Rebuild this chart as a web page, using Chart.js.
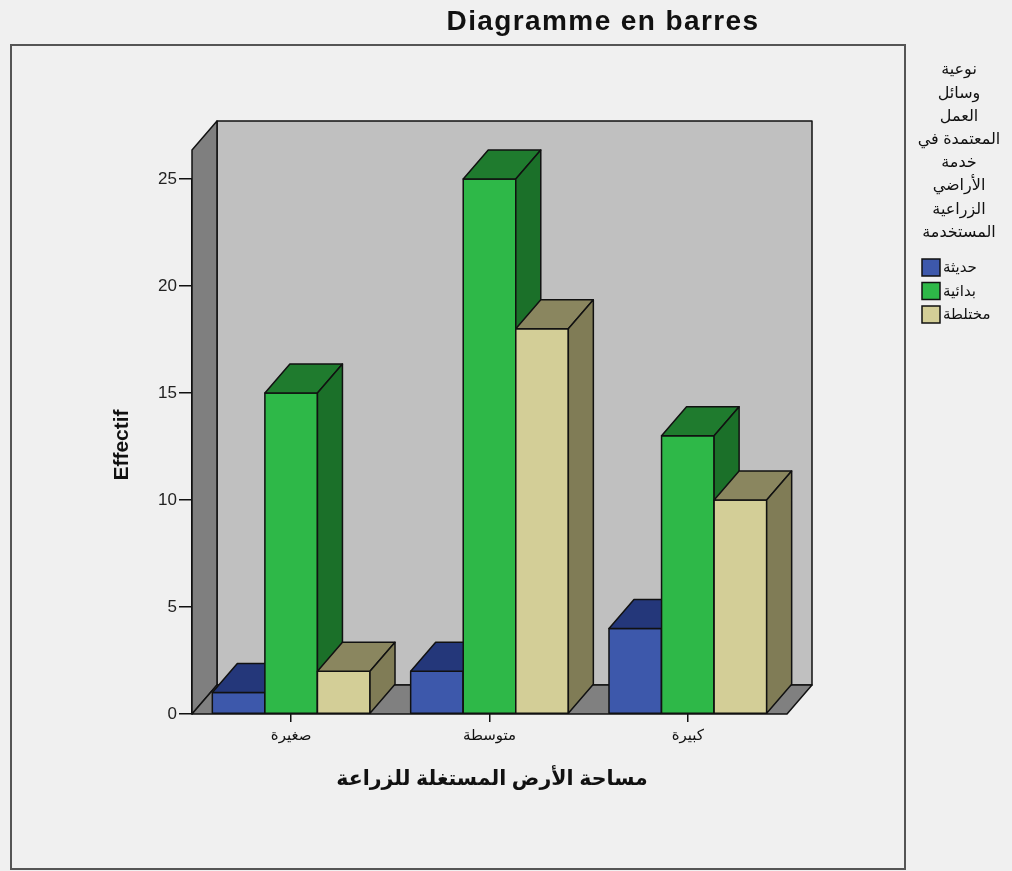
<!DOCTYPE html>
<html>
<head>
<meta charset="utf-8">
<script src="https://cdn.jsdelivr.net/npm/chart.js@4/dist/chart.umd.min.js"></script>
<style>
  html, body { margin: 0; padding: 0; background: #f0f0f0; }
  #wrap { width: 1012px; height: 871px; }
</style>
</head>
<body>
<div id="wrap"><canvas id="chart" width="1012" height="871"></canvas></div>
<script>
// --- Data ---
const categories = ['صغيرة', 'متوسطة', 'كبيرة'];
const seriesNames = ['حديثة', 'بدائية', 'مختلطة'];
const modernValues = [1, 2, 4];
const primitiveValues = [15, 25, 13];
const mixedValues = [2, 18, 10];
const yTicks = [0, 5, 10, 15, 20, 25];

const chartTitle = 'Diagramme en barres';
const xTitle = 'مساحة الأرض المستغلة للزراعة';
const yTitle = 'Effectif';
const legendTitle = ['نوعية', 'وسائل', 'العمل', 'المعتمدة في', 'خدمة', 'الأراضي', 'الزراعية', 'المستخدمة'];

// colours: front face, top face, side face
const faceColors = [
    ['#3d58ab', '#24377a', '#1f3170'],
    ['#2eb848', '#1f7b2e', '#1b7029'],
    ['#d3ce97', '#8a865f', '#807c56']
];

const depthX = 25, depthY = 29;
const wallTop = 26.35;
const arabicFont = '"Liberation Sans", "DejaVu Sans", Arial, sans-serif';

function poly(ctx, pts, fill) {
    ctx.beginPath();
    ctx.moveTo(pts[0][0], pts[0][1]);
    for (let k = 1; k < pts.length; k++) ctx.lineTo(pts[k][0], pts[k][1]);
    ctx.closePath();
    ctx.fillStyle = fill;
    ctx.fill();
    ctx.stroke();
}

// --- 3D walls, floor and bar faces ---
const boxPlugin = {
    id: 'box3d',
    beforeDatasetsDraw(chart) {
        const ctx = chart.ctx;
        const y = chart.scales.y;
        const L = chart.chartArea.left, R = chart.chartArea.right;
        const B = y.getPixelForValue(0), T = y.getPixelForValue(wallTop);
        ctx.save();
        ctx.lineWidth = 1.5;
        ctx.strokeStyle = '#111';
        ctx.lineJoin = 'round';
        // back wall, left wall, floor
        poly(ctx, [[L + depthX, T - depthY], [R + depthX, T - depthY], [R + depthX, B - depthY], [L + depthX, B - depthY]], '#c0c0c0');
        poly(ctx, [[L, T], [L + depthX, T - depthY], [L + depthX, B - depthY], [L, B]], '#7f7f7f');
        poly(ctx, [[L, B], [R, B], [R + depthX, B - depthY], [L + depthX, B - depthY]], '#808080');
        ctx.restore();
    },
    afterDatasetsDraw(chart) {
        const ctx = chart.ctx;
        ctx.save();
        ctx.lineWidth = 1.5;
        ctx.strokeStyle = '#111';
        ctx.lineJoin = 'round';
        // paint bars left to right so nearer faces cover the ones behind
        for (let j = 0; j < categories.length; j++) {
            for (let i = 0; i < chart.data.datasets.length; i++) {
                const el = chart.getDatasetMeta(i).data[j];
                const l = el.x - el.width / 2, r = el.x + el.width / 2;
                const t = el.y, b = el.base;
                const c = faceColors[i];
                poly(ctx, [[l, t], [r, t], [r, b], [l, b]], c[0]);
                poly(ctx, [[l, t], [l + depthX, t - depthY], [r + depthX, t - depthY], [r, t]], c[1]);
                poly(ctx, [[r, t], [r + depthX, t - depthY], [r + depthX, b - depthY], [r, b]], c[2]);
            }
        }
        ctx.restore();
    },
    afterDraw(chart) {
        const ctx = chart.ctx;
        ctx.save();
        // outer frame
        ctx.strokeStyle = '#555';
        ctx.lineWidth = 2;
        ctx.strokeRect(11, 45, 894, 824);

        ctx.fillStyle = '#111';
        // chart title
        ctx.font = 'bold 28px "Liberation Sans", Arial, sans-serif';
        ctx.textAlign = 'center';
        ctx.textBaseline = 'middle';
        ctx.letterSpacing = '1.4px';
        ctx.fillText(chartTitle, 603, 22);
        ctx.letterSpacing = '0px';

        // axis titles
        ctx.font = 'bold 21px "Liberation Sans", Arial, sans-serif';
        ctx.save();
        ctx.translate(122, 445);
        ctx.rotate(-Math.PI / 2);
        ctx.fillText(yTitle, 0, 0);
        ctx.restore();

        ctx.font = 'bold 20.5px ' + arabicFont;
        ctx.direction = 'rtl';
        ctx.fillText(xTitle, 492, 779);

        // legend
        ctx.font = '16px ' + arabicFont;
        legendTitle.forEach(function (line, k) {
            ctx.fillText(line, 959, 70 + k * 23.2);
        });
        ctx.font = '15px ' + arabicFont;
        ctx.lineWidth = 1.5;
        ctx.strokeStyle = '#111';
        ctx.textAlign = 'left';
        ctx.direction = 'ltr';
        seriesNames.forEach(function (name, k) {
            const by = 259 + k * 23.5;
            ctx.fillStyle = faceColors[k][0];
            ctx.fillRect(922, by, 18, 17);
            ctx.strokeRect(922, by, 18, 17);
            ctx.fillStyle = '#111';
            ctx.fillText(name, 943, by + 9);
        });
        ctx.restore();
    }
};

const ctx = document.getElementById('chart').getContext('2d');
new Chart(ctx, {
    type: 'bar',
    data: {
        labels: categories,
        datasets: [
            { label: seriesNames[0], data: modernValues, backgroundColor: faceColors[0][0] },
            { label: seriesNames[1], data: primitiveValues, backgroundColor: faceColors[1][0] },
            { label: seriesNames[2], data: mixedValues, backgroundColor: faceColors[2][0] }
        ]
    },
    options: {
        responsive: false,
        animation: false,
        devicePixelRatio: 1,
        categoryPercentage: 0.795,
        barPercentage: 1,
        layout: { padding: { left: 100, right: 225, top: 179, bottom: 57 } },
        plugins: {
            legend: { display: false },
            title: { display: false },
            tooltip: { enabled: false }
        },
        scales: {
            x: {
                grid: { drawOnChartArea: false, offset: false, tickLength: 8, color: '#111', lineWidth: 1.5 },
                border: { display: false },
                ticks: { color: '#111', font: { size: 15, family: arabicFont }, maxRotation: 0, padding: 5 },
                afterFit: function (scale) { scale.height = 100; }
            },
            y: {
                min: 0,
                max: 25,
                afterBuildTicks: function (scale) { scale.ticks = yTicks.map(function (v) { return { value: v }; }); },
                grid: { drawOnChartArea: false, tickLength: 13, color: '#111', lineWidth: 1.5 },
                border: { display: true, color: '#111', width: 1.5 },
                ticks: { color: '#222', font: { size: 17, family: '"Liberation Sans", Arial, sans-serif' }, padding: 2 },
                afterFit: function (scale) { scale.width = 92; }
            }
        }
    },
    plugins: [boxPlugin]
});
</script>
</body>
</html>
